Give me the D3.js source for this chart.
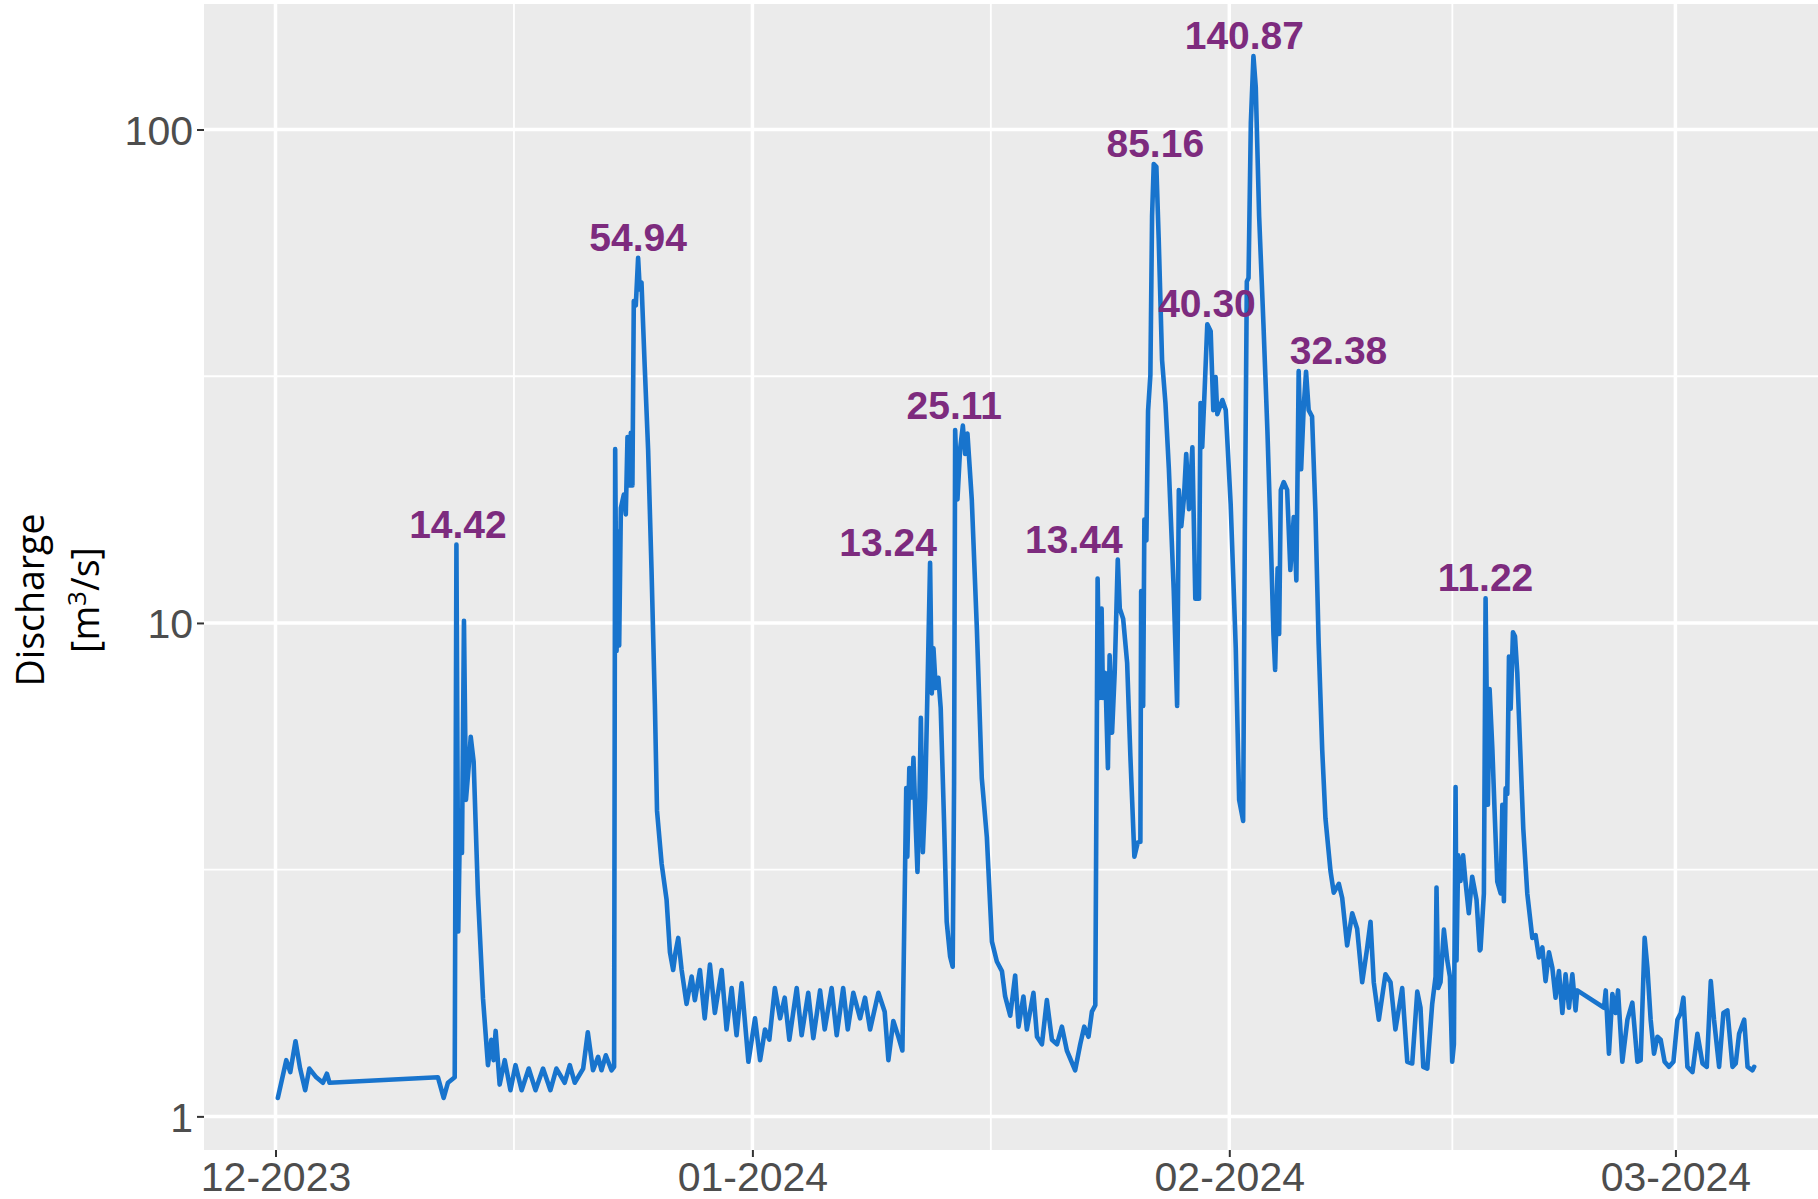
<!DOCTYPE html>
<html>
<head>
<meta charset="utf-8">
<script src="https://cdn.jsdelivr.net/npm/d3@7"></script>
<style>
  html, body { margin: 0; padding: 0; background: #ffffff; }
  svg { display: block; }
</style>
</head>
<body>
<svg id="chart" width="1818" height="1199"></svg>
<script>
// ---------- DATA (days after 2023-12-01 00:00 UTC, discharge m3/s) ----------
const startDate = "2023-12-01";
const flow = [
  [0.15,1.09],[0.7,1.30],[0.96,1.23],[1.3,1.42],[1.6,1.25],[1.93,1.13],[2.2,1.25],[2.65,1.20],[3.08,1.17],[3.34,1.22],[3.51,1.17],
  [10.56,1.20],[10.93,1.09],[11.21,1.17],[11.65,1.20],
  [11.76,14.42],[11.88,2.37],[12.0,4.14],[12.12,3.42],[12.25,10.1],[12.38,4.38],[12.56,5.13],[12.69,5.88],[12.88,5.23],[13.16,2.81],[13.49,1.73],[13.81,1.27],[14.03,1.43],[14.18,1.30],[14.31,1.49],[14.57,1.16],[14.9,1.30],[15.27,1.13],[15.6,1.27],[16.0,1.13],[16.46,1.25],[16.9,1.13],[17.39,1.25],[17.87,1.13],[18.26,1.25],
  [18.8,1.17],[19.13,1.27],[19.45,1.17],[20.0,1.25],[20.3,1.48],[20.64,1.24],[20.97,1.32],[21.19,1.24],[21.47,1.33],[21.84,1.24],[22.01,1.26],
  [22.08,22.5],[22.17,8.77],[22.27,15.3],[22.34,9.0],[22.45,17.1],[22.64,18.2],[22.77,16.6],[22.88,23.8],[22.99,19.0],[23.1,24.3],[23.2,19.0],[23.29,44.9],[23.42,44.0],[23.57,54.94],[23.68,47.4],[23.79,49.0],[24.0,33.1],[24.22,22.5],[24.44,12.9],[24.66,6.86],[24.8,4.16],[25.1,3.25],[25.42,2.75],[25.64,2.15],[25.85,1.98],[26.0,2.15],[26.18,2.30],[26.4,1.98],[26.72,1.69],[27.05,1.92],[27.26,1.72],[27.59,1.98],[27.9,1.58],[28.24,2.03],[28.56,1.62],[29.0,1.98],[29.32,1.50],[29.65,1.82],[29.97,1.46],[30.3,1.86],[30.74,1.29],[31.17,1.58],[31.5,1.30],[31.82,1.50],[32.1,1.43],[32.46,1.82],[32.8,1.58],[33.1,1.74],[33.4,1.43],[33.88,1.82],[34.2,1.46],[34.63,1.78],[34.96,1.44],[35.4,1.80],[35.7,1.50],[36.15,1.82],[36.48,1.46],[36.9,1.82],[37.2,1.50],[37.56,1.78],[38.0,1.58],[38.32,1.74],[38.65,1.50],[39.19,1.78],
  [39.6,1.63],[39.84,1.30],[40.16,1.56],[40.49,1.45],[40.75,1.36],[40.86,2.31],[41.0,4.63],[41.07,3.36],[41.2,5.08],[41.36,4.43],[41.47,5.33],[41.62,3.85],[41.73,3.13],[41.86,4.43],[41.95,6.42],[42.08,3.43],[42.23,4.43],[42.37,7.05],[42.55,13.24],[42.66,7.2],[42.77,8.88],[42.92,7.38],[43.09,7.74],[43.24,6.73],[43.46,3.94],[43.63,2.48],[43.85,2.11],[44.02,2.01],[44.11,4.74],[44.18,24.6],[44.33,17.8],[44.5,22.5],[44.68,25.11],[44.83,22.0],[44.98,24.2],[45.26,17.8],[45.59,9.75],[45.91,4.85],[46.24,3.68],[46.57,2.26],[46.89,2.06],[47.22,1.97],[47.43,1.75],[47.76,1.60],[48.08,1.93],[48.3,1.52],[48.62,1.75],[48.84,1.50],[49.27,1.78],[49.5,1.45],[49.82,1.40],[50.14,1.72],[50.47,1.43],[50.8,1.40],[51.12,1.52],[51.44,1.36],[51.98,1.24],[52.31,1.40],[52.57,1.52],[52.85,1.45],[53.07,1.63],[53.29,1.68],
  [53.44,12.3],[53.57,7.05],[53.7,10.7],[53.79,7.05],[53.94,7.92],[54.11,5.08],[54.22,8.6],[54.38,5.99],[54.55,7.92],[54.75,13.44],[54.88,10.7],[55.1,10.2],[55.36,8.3],
  [55.57,5.37],[55.83,3.36],[56.05,3.59],[56.22,3.6],[56.27,11.6],[56.4,6.79],[56.48,16.2],[56.61,14.7],[56.72,26.9],[56.87,31.8],[56.98,66.7],[57.09,85.16],[57.26,84.0],[57.41,60.2],[57.63,34.1],[57.85,27.9],[58.07,20.6],[58.39,11.6],[58.61,6.79],[58.72,18.6],[58.88,15.7],[59.05,17.9],[59.2,22.0],[59.38,17.0],[59.6,22.7],[59.79,11.2],[60.03,11.2],[60.13,27.9],[60.24,22.7],[60.4,29.8],[60.57,40.30],[60.79,39.0],[60.96,27.0],[61.11,31.5],[61.22,26.5],[61.55,28.3],[61.77,27.0],[62.09,17.4],[62.42,8.9],[62.64,4.38],[62.9,3.97],[63.01,15.2],[63.14,49.2],[63.25,50.0],[63.4,103],[63.57,140.87],[63.72,122],[63.94,66.7],[64.22,40.3],[64.48,24.4],[64.7,14.7],[64.87,9.5],[64.98,8.03],[65.14,12.9],[65.24,9.5],[65.35,18.6],
  [65.54,19.3],[65.76,18.6],[65.97,12.8],[66.19,16.4],[66.36,12.2],[66.51,32.38],[66.67,20.5],[66.84,27.5],[66.99,32.3],[67.16,27.0],[67.38,26.2],[67.6,16.8],[67.81,9.06],[68.04,5.53],[68.25,4.02],[68.58,3.14],[68.79,2.84],[69.12,2.96],[69.34,2.77],[69.66,2.22],[69.99,2.58],[70.31,2.4],[70.64,1.87],[70.96,2.19],[71.18,2.48],[71.39,1.87],[71.72,1.57],[72.15,1.94],[72.48,1.87],[72.8,1.50],[73.24,1.82],[73.57,1.29],[73.89,1.28],[74.22,1.79],[74.43,1.66],[74.61,1.26],[74.87,1.25],[75.19,1.69],[75.41,1.92],[75.47,2.91],[75.58,1.82],[75.73,1.87],[75.95,2.39],[76.17,2.07],[76.34,1.92],[76.49,1.29],[76.6,1.4],[76.71,4.65],[76.77,2.07],[76.88,3.38],[77.03,3.0],[77.2,3.38],[77.35,3.0],[77.57,2.58],[77.79,3.06],[78.07,2.75],[78.28,2.17],
  [78.33,2.18],[78.55,2.83],[78.66,11.22],[78.81,4.28],[78.92,7.35],[79.1,5.56],[79.24,4.2],[79.42,2.99],[79.64,2.83],[79.75,4.28],[79.85,2.73],[79.96,4.62],[80.07,4.5],[80.18,8.55],[80.29,6.7],[80.44,9.57],[80.57,9.4],[80.72,7.93],[80.89,5.77],[81.11,3.83],[81.37,2.83],[81.7,2.3],[81.91,2.33],[82.13,2.1],[82.35,2.2],[82.56,1.88],[82.78,2.15],[83.0,2.0],[83.21,1.74],[83.43,1.97],[83.65,1.62],[83.86,1.94],[84.08,1.66],[84.3,1.94],[84.51,1.64],[84.62,1.8],
  [86.36,1.66],[86.47,1.8],[86.68,1.34],[86.9,1.77],[87.12,1.62],[87.27,1.8],[87.55,1.29],[87.88,1.57],[88.2,1.7],[88.53,1.29],[88.74,1.3],[89.0,2.3],[89.18,2.0],[89.39,1.57],[89.61,1.34],[89.83,1.45],[90.04,1.43],[90.3,1.29],[90.58,1.26],[90.87,1.29],[91.13,1.57],[91.35,1.62],[91.52,1.74],[91.78,1.26],[92.11,1.23],[92.43,1.47],[92.76,1.28],[93.04,1.26],[93.3,1.88],[93.51,1.57],[93.84,1.26],[94.12,1.62],[94.38,1.64],[94.71,1.26],[94.92,1.28],[95.14,1.47],[95.47,1.57],[95.69,1.26],[96.01,1.24],[96.12,1.26]
];

// Peak annotations: label text, value of the peak, day where the label is centred
const peakLabels  = ["14.42","54.94","13.24","25.11","13.44","85.16","40.30","140.87","32.38","11.22"];
const peakValues  = [14.42, 54.94, 13.24, 25.11, 13.44, 85.16, 40.30, 140.87, 32.38, 11.22];
const peakLabelDay = [11.86, 23.57, 39.82, 44.12, 51.9, 57.19, 60.55, 62.98, 69.1, 78.66];

const yTicks = [1, 10, 100];
const yMinor = [Math.sqrt(10), Math.sqrt(1000)];
const xTickFormat = "%m-%Y";
const yTitle1 = "Discharge";

// ---------- LAYOUT ----------
const W = 1818, H = 1199;
const panel = { left: 204, top: 4, bottom: 1150, right: 1828 };
const DAY = 864e5;
const t0 = Date.parse(startDate + "T00:00:00Z");
const data = flow.map(([d, v]) => ({ date: new Date(t0 + d * DAY), value: v }));

const svg = d3.select("#chart");

// x: ggplot-like 5% expansion
const xExt = d3.extent(data, d => d.date.getTime());
const xPad = (xExt[1] - xExt[0]) * 0.05;
const x = d3.scaleUtc()
  .domain([new Date(xExt[0] - xPad), new Date(xExt[1] + xPad)])
  .range([panel.left, panel.right]);

// y: log with 5% expansion in log space
const lExt = d3.extent(data, d => Math.log10(d.value));
const lPad = (lExt[1] - lExt[0]) * 0.05;
const y = d3.scaleLog()
  .domain([Math.pow(10, lExt[0] - lPad), Math.pow(10, lExt[1] + lPad)])
  .range([panel.bottom, panel.top]);

// clip
svg.append("defs").append("clipPath").attr("id", "clip")
  .append("rect")
  .attr("x", panel.left).attr("y", panel.top)
  .attr("width", panel.right - panel.left).attr("height", panel.bottom - panel.top);

// panel background
svg.append("rect")
  .attr("x", panel.left).attr("y", panel.top)
  .attr("width", panel.right - panel.left).attr("height", panel.bottom - panel.top)
  .attr("fill", "#EBEBEB");

const grid = svg.append("g").attr("clip-path", "url(#clip)");

// x ticks (month starts) and minor midpoints
const xMajor = x.ticks(d3.utcMonth.every(1));
const xMinorT = [];
for (let i = 0; i < xMajor.length - 1; i++) {
  xMinorT.push(new Date((xMajor[i].getTime() + xMajor[i + 1].getTime()) / 2));
}

grid.selectAll("line.ymin").data(yMinor).join("line")
  .attr("x1", panel.left).attr("x2", panel.right)
  .attr("y1", d => y(d)).attr("y2", d => y(d))
  .attr("stroke", "#ffffff").attr("stroke-width", 1.8);
grid.selectAll("line.xmin").data(xMinorT).join("line")
  .attr("y1", panel.top).attr("y2", panel.bottom)
  .attr("x1", d => x(d)).attr("x2", d => x(d))
  .attr("stroke", "#ffffff").attr("stroke-width", 1.8);
grid.selectAll("line.ymaj").data(yTicks).join("line")
  .attr("x1", panel.left).attr("x2", panel.right)
  .attr("y1", d => y(d)).attr("y2", d => y(d))
  .attr("stroke", "#ffffff").attr("stroke-width", 3.5);
grid.selectAll("line.xmaj").data(xMajor).join("line")
  .attr("y1", panel.top).attr("y2", panel.bottom)
  .attr("x1", d => x(d)).attr("x2", d => x(d))
  .attr("stroke", "#ffffff").attr("stroke-width", 3.5);

// line
const line = d3.line().x(d => x(d.date)).y(d => y(d.value));
grid.append("path")
  .datum(data)
  .attr("d", line)
  .attr("fill", "none")
  .attr("stroke", "#1874CD")
  .attr("stroke-width", 4.6)
  .attr("stroke-linejoin", "round")
  .attr("stroke-linecap", "round");

// peak labels
svg.append("g").selectAll("text").data(peakLabels).join("text")
  .attr("x", (d, i) => x(new Date(t0 + peakLabelDay[i] * DAY)))
  .attr("y", (d, i) => y(peakValues[i]) - 7)
  .attr("text-anchor", "middle")
  .attr("font-family", "'Liberation Sans', Arial, sans-serif")
  .attr("font-weight", "bold")
  .attr("font-size", 39)
  .attr("fill", "#7D2B7E")
  .text(d => d);

// y axis
const yAxis = d3.axisLeft(y).tickValues(yTicks).tickFormat(d3.format("d")).tickSize(7).tickPadding(4);
const gy = svg.append("g").attr("transform", `translate(${panel.left},0)`).call(yAxis);
gy.select(".domain").remove();
gy.selectAll(".tick line").attr("stroke", "#333333").attr("stroke-width", 2);
gy.selectAll(".tick text")
  .attr("font-family", "'Liberation Sans', Arial, sans-serif")
  .attr("font-size", 41).attr("fill", "#4D4D4D").attr("dy", "0.36em");

// x axis
const xAxis = d3.axisBottom(x).tickValues(xMajor).tickFormat(d3.utcFormat(xTickFormat)).tickSize(7).tickPadding(4);
const gx = svg.append("g").attr("transform", `translate(0,${panel.bottom})`).call(xAxis);
gx.select(".domain").remove();
gx.selectAll(".tick line").attr("stroke", "#333333").attr("stroke-width", 2);
gx.selectAll(".tick text")
  .attr("font-family", "'Liberation Sans', Arial, sans-serif")
  .attr("font-size", 41).attr("fill", "#4D4D4D").attr("dy", "0.72em");

// y title (two lines)
const yc = 600;
svg.append("text")
  .attr("transform", `translate(44,${yc}) rotate(-90)`)
  .attr("text-anchor", "middle")
  .attr("font-family", "'Open Sans', sans-serif")
  .attr("font-size", 37.5).attr("fill", "#000000")
  .text(yTitle1);
const t2 = svg.append("text")
  .attr("transform", `translate(99,${yc}) rotate(-90)`)
  .attr("text-anchor", "middle")
  .attr("font-family", "'Open Sans', sans-serif")
  .attr("font-size", 37.5).attr("fill", "#000000");
t2.append("tspan").text("[m");
t2.append("tspan").attr("font-size", 26).attr("dy", -13).text("3");
t2.append("tspan").attr("dy", 13).text("/s]");
</script>
</body>
</html>
